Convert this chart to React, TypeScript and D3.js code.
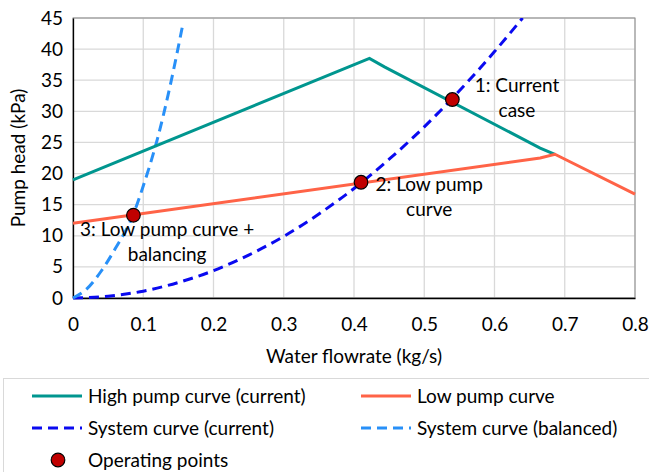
import React, { useRef, useEffect } from "react";
import * as d3 from "d3";

// curves: [flowrate kg/s, head kPa]
const highPump = [
  [0, 19],
  [0.422, 38.5],
  [0.444, 37.1],
  [0.665, 24.1],
  [0.686, 23.1],
];
const lowPump = [
  [0, 12],
  [0.665, 22.5],
  [0.686, 23.1],
  [0.8, 16.7],
];
const systemCurrent = [
  [0, 0],
  [0.05, 0.3],
  [0.1, 1.1],
  [0.15, 2.5],
  [0.2, 4.4],
  [0.25, 6.9],
  [0.3, 9.9],
  [0.35, 13.5],
  [0.4, 17.6],
  [0.45, 22.3],
  [0.5, 27.5],
  [0.55, 33.3],
  [0.6, 39.6],
  [0.64, 45],
];
const systemBalanced = [
  [0, 0],
  [0.02, 1.5],
  [0.04, 4.3],
  [0.06, 7.9],
  [0.085, 13.2],
  [0.1, 18],
  [0.12, 25.5],
  [0.14, 35],
  [0.156, 43.8],
];
const opPoints = [
  [0.54, 31.9],
  [0.41, 18.6],
  [0.086, 13.3],
];
const opLabels = [
  { lines: ["1: Current", "case"], at: [0.632, 33.1] },
  { lines: ["2: Low pump", "curve"], at: [0.507, 17.2] },
  { lines: ["3: Low pump curve +", "balancing"], at: [0.134, 10.0] },
];
const xTicks = [0, 0.1, 0.2, 0.3, 0.4, 0.5, 0.6, 0.7, 0.8];
const yTicks = [0, 5, 10, 15, 20, 25, 30, 35, 40, 45];

const font = "Lato, 'Open Sans', sans-serif";
const fs = 19;
const teal = "#00968F";
const tomato = "#FF6347";
const blue = "#0A0AF0";
const lightBlue = "#2890F8";

export default function App() {
  const svgRef = useRef(null);

  useEffect(() => {
    const svg = d3.select(svgRef.current);
    svg.selectAll("*").remove();

    const x = d3.scaleLinear().domain([0, 0.8]).range([73, 635]);
    const y = d3.scaleLinear().domain([0, 45]).range([298, 18]);

    // grid
    const grid = svg.append("g");
    grid
      .selectAll(".vg")
      .data(xTicks)
      .join("line")
      .attr("x1", (d) => x(d))
      .attr("x2", (d) => x(d))
      .attr("y1", y(0))
      .attr("y2", y(45))
      .attr("stroke", "#d9d9d9")
      .attr("stroke-width", 1.3);
    grid
      .selectAll(".hg")
      .data(yTicks)
      .join("line")
      .attr("x1", x(0))
      .attr("x2", x(0.8))
      .attr("y1", (d) => y(d))
      .attr("y2", (d) => y(d))
      .attr("stroke", "#d9d9d9")
      .attr("stroke-width", 1.3);
    // plot border
    svg
      .append("rect")
      .attr("x", x(0))
      .attr("y", y(45))
      .attr("width", x(0.8) - x(0))
      .attr("height", y(0) - y(45))
      .attr("fill", "none")
      .attr("stroke", "#8c8c8c")
      .attr("stroke-width", 1);

    // axes
    const xAxis = d3.axisBottom(x).tickValues(xTicks).tickSize(0).tickPadding(20)
      .tickFormat((d) => (d === 0 ? "0" : d3.format(".1f")(d)));
    svg
      .append("g")
      .attr("transform", `translate(0,${y(0)})`)
      .call(xAxis)
      .call((g) => g.select(".domain").attr("stroke", "#000").attr("stroke-width", 1.3))
      .selectAll("text")
      .attr("font-family", font)
      .attr("font-size", fs)
      .attr("fill", "#000");
    const yAxis = d3.axisLeft(y).tickValues(yTicks).tickSize(0).tickPadding(10);
    svg
      .append("g")
      .attr("transform", `translate(${x(0)},0)`)
      .call(yAxis)
      .call((g) => g.select(".domain").attr("stroke", "#000").attr("stroke-width", 1.3))
      .selectAll("text")
      .attr("font-family", font)
      .attr("font-size", fs)
      .attr("fill", "#000");

    svg
      .append("text")
      .text("Water flowrate (kg/s)")
      .attr("x", 354)
      .attr("y", 363)
      .attr("text-anchor", "middle")
      .attr("font-family", font)
      .attr("font-size", fs);
    svg
      .append("text")
      .text("Pump head (kPa)")
      .attr("transform", "translate(25,158)rotate(-90)")
      .attr("text-anchor", "middle")
      .attr("font-family", font)
      .attr("font-size", fs);

    const line = d3.line().x((d) => x(d[0])).y((d) => y(d[1]));
    const smooth = d3.line().x((d) => x(d[0])).y((d) => y(d[1])).curve(d3.curveMonotoneX);

    const series = [
      { data: systemCurrent, color: blue, dash: "10,6", gen: smooth },
      { data: systemBalanced, color: lightBlue, dash: "10,6", gen: smooth },
      { data: highPump, color: teal, dash: null, gen: line },
      { data: lowPump, color: tomato, dash: null, gen: line },
    ];
    svg
      .append("g")
      .selectAll("path")
      .data(series)
      .join("path")
      .attr("d", (s) => s.gen(s.data))
      .attr("fill", "none")
      .attr("stroke", (s) => s.color)
      .attr("stroke-width", 3)
      .attr("stroke-dasharray", (s) => s.dash);

    svg
      .append("g")
      .selectAll("circle")
      .data(opPoints)
      .join("circle")
      .attr("cx", (d) => x(d[0]))
      .attr("cy", (d) => y(d[1]))
      .attr("r", 6.8)
      .attr("fill", "#C00000")
      .attr("stroke", "#000")
      .attr("stroke-width", 1.2);

    // annotations
    const ann = svg.append("g").selectAll("text").data(opLabels).join("text")
      .attr("text-anchor", "middle")
      .attr("font-family", font)
      .attr("font-size", fs)
      .attr("x", (d) => x(d.at[0]))
      .attr("y", (d) => y(d.at[1]));
    ann
      .selectAll("tspan")
      .data((d) => d.lines.map((l, i) => ({ l, i, x: x(d.at[0]) })))
      .join("tspan")
      .attr("x", (d) => d.x)
      .attr("dy", (d) => (d.i === 0 ? 0 : 25))
      .text((d) => d.l);

    // legend
    const legend = svg.append("g");
    legend
      .append("rect")
      .attr("x", 3.5)
      .attr("y", 378.5)
      .attr("width", 700)
      .attr("height", 120)
      .attr("fill", "#fff")
      .attr("stroke", "#d9d9d9");
    const items = [
      { label: "High pump curve (current)", color: teal, dash: null, lx: 32, ly: 396 },
      { label: "Low pump curve", color: tomato, dash: null, lx: 361, ly: 396 },
      { label: "System curve (current)", color: blue, dash: "10,6", lx: 32, ly: 428 },
      { label: "System curve (balanced)", color: lightBlue, dash: "10,6", lx: 361, ly: 428 },
    ];
    items.forEach((it) => {
      legend
        .append("line")
        .attr("x1", it.lx)
        .attr("x2", it.lx + 50)
        .attr("y1", it.ly)
        .attr("y2", it.ly)
        .attr("stroke", it.color)
        .attr("stroke-width", 3)
        .attr("stroke-dasharray", it.dash);
      legend
        .append("text")
        .text(it.label)
        .attr("x", it.lx + 56)
        .attr("y", it.ly)
        .attr("dy", "0.35em")
        .attr("font-family", font)
        .attr("font-size", fs);
    });
    legend
      .append("circle")
      .attr("cx", 58)
      .attr("cy", 460)
      .attr("r", 6.8)
      .attr("fill", "#C00000")
      .attr("stroke", "#000")
      .attr("stroke-width", 1.2);
    legend
      .append("text")
      .text("Operating points")
      .attr("x", 88)
      .attr("y", 460)
      .attr("dy", "0.35em")
      .attr("font-family", font)
      .attr("font-size", fs);
  }, []);

  return (
    <svg
      ref={svgRef}
      width={649}
      height={472}
      style={{ position: "absolute", left: 0, top: 0, background: "#fff" }}
    ></svg>
  );
}
